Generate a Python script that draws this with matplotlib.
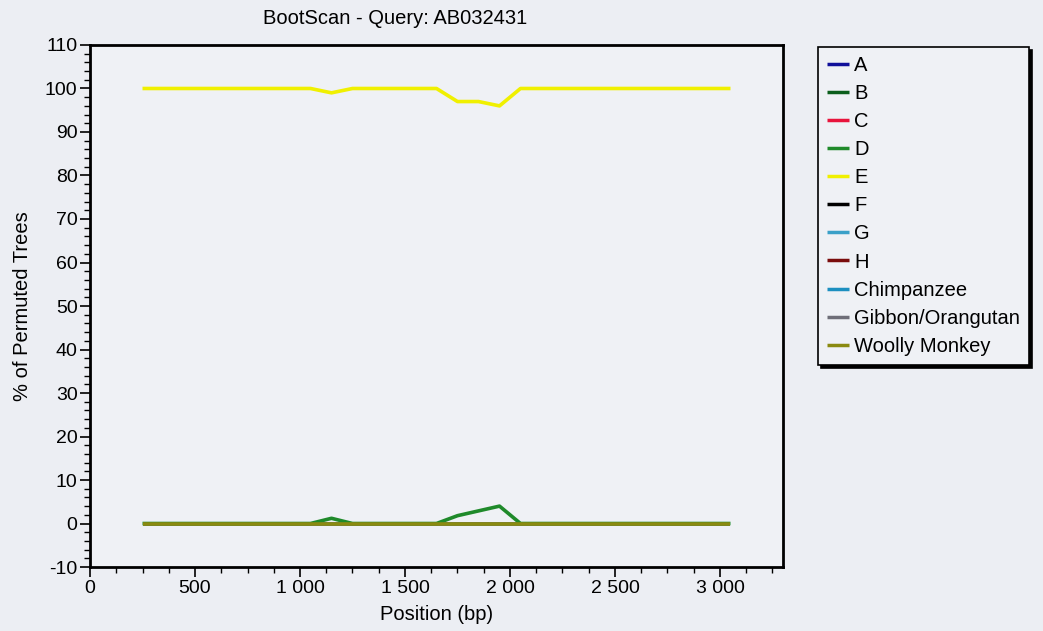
import matplotlib
matplotlib.use("Agg")
import matplotlib.pyplot as plt
from matplotlib.ticker import MultipleLocator, FuncFormatter

plt.rcParams['font.family'] = ['Liberation Sans', 'DejaVu Sans']
plt.rcParams['axes.unicode_minus'] = False

# Positions des fenetres (bp)
positions = [250, 350, 450, 550, 650, 750, 850, 950, 1050, 1150, 1250, 1350, 1450,
             1550, 1650, 1750, 1850, 1950, 2050, 2150, 2250, 2350, 2450, 2550,
             2650, 2750, 2850, 2950, 3050]

# Valeurs bootscan par serie
serie_e = [100, 100, 100, 100, 100, 100, 100, 100, 100, 99, 100, 100, 100,
           100, 100, 97, 97, 96, 100, 100, 100, 100, 100, 100,
           100, 100, 100, 100, 100]
serie_d = [0, 0, 0, 0, 0, 0, 0, 0, 0, 1.2, 0, 0, 0,
           0, 0, 1.8, 2.9, 4, 0, 0, 0, 0, 0, 0,
           0, 0, 0, 0, 0]
zeros = [0] * len(positions)

noms = ["A", "B", "C", "D", "E", "F", "G", "H", "Chimpanzee", "Gibbon/Orangutan", "Woolly Monkey"]
couleurs = ["#10109a", "#0b5e1c", "#e8143c", "#1f8a2a", "#f0f000", "#000000",
            "#3aa0c8", "#7a0c0c", "#1c8fc0", "#6e6e78", "#8a8a10"]
valeurs = {"D": serie_d, "E": serie_e}

fond = "#eceef3"
fig = plt.figure(figsize=(10.43, 6.31), dpi=100, facecolor=fond)
ax = fig.add_axes([0.0863, 0.1014, 0.6644, 0.8273], facecolor="#eff1f5")

lignes = {}
for nom, c in zip(noms, couleurs):
    lignes[nom] = ax.plot(positions, valeurs.get(nom, zeros), color=c, lw=2.6,
                          label=nom, solid_capstyle="butt")[0]
# ordre d'affichage : la ligne de base olive par-dessus
lignes["D"].set_zorder(3)
lignes["E"].set_zorder(3)
lignes["Woolly Monkey"].set_zorder(3.5)

ax.set_xlim(0, 3300)
ax.set_ylim(-10, 110)
ax.xaxis.set_major_locator(MultipleLocator(500))
ax.xaxis.set_minor_locator(MultipleLocator(125))
ax.yaxis.set_major_locator(MultipleLocator(10))
ax.yaxis.set_minor_locator(MultipleLocator(2))
ax.xaxis.set_major_formatter(FuncFormatter(lambda v, p: f"{int(v):,}".replace(",", " ")))
ax.tick_params(axis="both", which="major", length=7, width=1.2, labelsize=14, direction="out", pad=2)
ax.tick_params(axis="both", which="minor", length=4, width=1.0, direction="out")
ax.tick_params(top=False, right=False)
for s in ax.spines.values():
    s.set_linewidth(2)

ax.set_xlabel("Position (bp)", fontsize=14.5, labelpad=6)
ax.set_ylabel("% of Permuted Trees", fontsize=14.5, labelpad=9)
fig.text(395 / 1043, 1 - 19 / 631, "BootScan - Query: AB032431", ha="center", va="center", fontsize=14.5)

leg = ax.legend(loc="upper left", bbox_to_anchor=(818 / 1043, 1 - 47 / 631),
                bbox_transform=fig.transFigure, fontsize=14.5, frameon=True,
                fancybox=False, edgecolor="black", facecolor="#eff1f5", framealpha=1,
                shadow={"color": "black", "alpha": 1}, handlelength=1.1, handletextpad=0.25,
                labelspacing=0.45, borderpad=0.45, borderaxespad=0)
leg.get_frame().set_linewidth(1.2)
for l in leg.get_lines():
    l.set_linewidth(2.5)

fig.savefig("out.png", dpi=100, facecolor=fond)
